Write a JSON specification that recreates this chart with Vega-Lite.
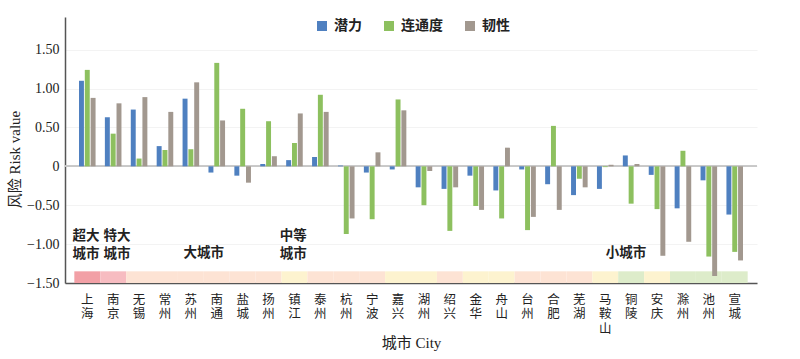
{
  "$schema": "https://vega.github.io/schema/vega-lite/v6.json",
  "width": 692,
  "height": 266,
  "autosize": "none",
  "padding": {"left": 65, "top": 17, "right": 43, "bottom": 76},
  "background": "white",
  "config": {"view": {"stroke": null}},
  "datasets": {
    "risk": [
      {"city": "上海", "tier": "超大城市", "潜力": 1.10, "连通度": 1.24, "韧性": 0.88},
      {"city": "南京", "tier": "特大城市", "潜力": 0.63, "连通度": 0.42, "韧性": 0.81},
      {"city": "无锡", "tier": "大城市", "潜力": 0.73, "连通度": 0.10, "韧性": 0.89},
      {"city": "常州", "tier": "大城市", "潜力": 0.26, "连通度": 0.21, "韧性": 0.70},
      {"city": "苏州", "tier": "大城市", "潜力": 0.87, "连通度": 0.22, "韧性": 1.08},
      {"city": "南通", "tier": "大城市", "潜力": -0.08, "连通度": 1.33, "韧性": 0.59},
      {"city": "盐城", "tier": "大城市", "潜力": -0.12, "连通度": 0.74, "韧性": -0.21},
      {"city": "扬州", "tier": "大城市", "潜力": 0.03, "连通度": 0.58, "韧性": 0.13},
      {"city": "镇江", "tier": "中等城市", "潜力": 0.08, "连通度": 0.30, "韧性": 0.68},
      {"city": "泰州", "tier": "大城市", "潜力": 0.12, "连通度": 0.92, "韧性": 0.70},
      {"city": "杭州", "tier": "大城市", "潜力": 0.01, "连通度": -0.87, "韧性": -0.67},
      {"city": "宁波", "tier": "大城市", "潜力": -0.08, "连通度": -0.68, "韧性": 0.18},
      {"city": "嘉兴", "tier": "中等城市", "潜力": -0.04, "连通度": 0.86, "韧性": 0.72},
      {"city": "湖州", "tier": "中等城市", "潜力": -0.27, "连通度": -0.50, "韧性": -0.06},
      {"city": "绍兴", "tier": "大城市", "潜力": -0.29, "连通度": -0.83, "韧性": -0.27},
      {"city": "金华", "tier": "中等城市", "潜力": -0.12, "连通度": -0.51, "韧性": -0.56},
      {"city": "舟山", "tier": "中等城市", "潜力": -0.31, "连通度": -0.67, "韧性": 0.24},
      {"city": "台州", "tier": "大城市", "潜力": -0.04, "连通度": -0.82, "韧性": -0.65},
      {"city": "合肥", "tier": "大城市", "潜力": -0.23, "连通度": 0.52, "韧性": -0.56},
      {"city": "芜湖", "tier": "大城市", "潜力": -0.37, "连通度": -0.16, "韧性": -0.27},
      {"city": "马鞍山", "tier": "中等城市", "潜力": -0.29, "连通度": -0.01, "韧性": 0.02},
      {"city": "铜陵", "tier": "小城市", "潜力": 0.14, "连通度": -0.48, "韧性": 0.03},
      {"city": "安庆", "tier": "中等城市", "潜力": -0.11, "连通度": -0.55, "韧性": -1.15},
      {"city": "滁州", "tier": "小城市", "潜力": -0.54, "连通度": 0.20, "韧性": -0.97},
      {"city": "池州", "tier": "小城市", "潜力": -0.18, "连通度": -1.16, "韧性": -1.41},
      {"city": "宣城", "tier": "小城市", "潜力": -0.62, "连通度": -1.10, "韧性": -1.21}
    ],
    "twoLine": [
      {"city": "上海", "label": "超大\n城市"},
      {"city": "镇江", "label": "中等\n城市"}
    ],
    "twoLineB": [
      {"city": "南京", "label": "特大\n城市"}
    ],
    "big": [
      {"city": "苏州", "label": "大城市"}
    ],
    "small": [
      {"city": "铜陵", "label": "小城市"}
    ]
  },
  "resolve": {"scale": {"color": "independent"}},
  "layer": [
    {
      "data": {"name": "risk"},
      "mark": {"type": "bar", "stroke": null},
      "encoding": {
        "x": {
          "field": "city", "type": "nominal", "sort": null,
          "scale": {"paddingInner": 0, "paddingOuter": 0.36},
          "axis": {
            "title": "城市 City",
            "titleFont": "Liberation Serif, Noto Sans CJK SC",
            "titleFontSize": 15,
            "titleFontWeight": "normal",
            "titleColor": "#222",
            "titlePadding": 1,
            "labelExpr": "split(datum.label, '')",
            "labelAngle": 0,
            "labelFont": "Noto Sans CJK SC",
            "labelFontSize": 12.5,
            "labelLineHeight": 14.5,
            "labelColor": "#222",
            "labelPadding": 14,
            "labelBaseline": "top",
            "tickSize": -4,
            "tickColor": "#666",
            "domainColor": "#555",
            "domainWidth": 1.5
          }
        },
        "y": {"datum": -1.5, "type": "quantitative"},
        "y2": {"datum": -1.35},
        "color": {
          "field": "tier", "type": "nominal", "legend": null,
          "scale": {
            "domain": ["超大城市", "特大城市", "大城市", "中等城市", "小城市"],
            "range": ["#f2a0a6", "#f7bcc1", "#fde3d4", "#fdf3cf", "#ddecca"]
          }
        }
      }
    },
    {
      "data": {"name": "risk"},
      "mark": {"type": "rule", "color": "#c8c8c8", "strokeWidth": 1},
      "encoding": {"y": {"datum": 0, "type": "quantitative"}}
    },
    {
      "data": {"name": "risk"},
      "transform": [{"fold": ["潜力", "连通度", "韧性"], "as": ["metric", "value"]}],
      "mark": {"type": "bar"},
      "encoding": {
        "x": {"field": "city", "type": "nominal", "sort": null},
        "xOffset": {
          "field": "metric", "type": "nominal",
          "sort": ["潜力", "连通度", "韧性"],
          "scale": {"paddingInner": 0.15, "paddingOuter": 0.8}
        },
        "y": {
          "field": "value", "type": "quantitative",
          "scale": {"domain": [-1.5, 1.92], "nice": false, "zero": false},
          "axis": {
            "title": "风险 Risk value",
            "titleFont": "Liberation Serif, Noto Sans CJK SC",
            "titleFontSize": 15,
            "titleFontWeight": "normal",
            "titleColor": "#222",
            "titlePadding": 4,
            "titleY": 142,
            "values": [-1.5, -1, -0.5, 0, 0.5, 1, 1.5],
            "labelExpr": "datum.value == 0 ? '0' : format(datum.value, '.2f')",
            "labelFont": "Liberation Serif",
            "labelFontSize": 14,
            "labelColor": "#222",
            "labelPadding": 6,
            "ticks": false,
            "grid": true,
            "gridColor": "#f3f3f3",
            "domainColor": "#555",
            "domainWidth": 1.5
          }
        },
        "color": {
          "field": "metric", "type": "nominal",
          "scale": {"domain": ["潜力", "连通度", "韧性"], "range": ["#4f80c0", "#8dc05f", "#a2988f"]},
          "legend": {
            "orient": "none", "legendX": 250, "legendY": 2,
            "direction": "horizontal", "title": null,
            "symbolType": "square", "symbolSize": 100, "symbolStrokeWidth": 0,
            "labelFont": "Noto Sans CJK SC", "labelFontSize": 14, "labelFontWeight": "bold",
            "labelColor": "#222", "labelOffset": 5, "columnPadding": 20
          }
        }
      }
    },
    {
      "data": {"name": "twoLine"},
      "mark": {"type": "text", "lineBreak": "\n", "baseline": "bottom", "align": "center", "font": "Noto Sans CJK SC", "fontSize": 13.5, "fontWeight": "bold", "color": "#222", "lineHeight": 18},
      "encoding": {
        "x": {"field": "city", "type": "nominal", "sort": null, "bandPosition": 0.45},
        "y": {"datum": -0.98, "type": "quantitative"},
        "text": {"field": "label"}
      }
    },
    {
      "data": {"name": "twoLineB"},
      "mark": {"type": "text", "lineBreak": "\n", "baseline": "bottom", "align": "center", "font": "Noto Sans CJK SC", "fontSize": 13.5, "fontWeight": "bold", "color": "#222", "lineHeight": 18},
      "encoding": {
        "x": {"field": "city", "type": "nominal", "sort": null, "bandPosition": 0.65},
        "y": {"datum": -0.98, "type": "quantitative"},
        "text": {"field": "label"}
      }
    },
    {
      "data": {"name": "big"},
      "mark": {"type": "text", "baseline": "bottom", "align": "center", "font": "Noto Sans CJK SC", "fontSize": 13.5, "fontWeight": "bold", "color": "#222"},
      "encoding": {
        "x": {"field": "city", "type": "nominal", "sort": null, "bandPosition": 1},
        "y": {"datum": -1.21, "type": "quantitative"},
        "text": {"field": "label"}
      }
    },
    {
      "data": {"name": "small"},
      "mark": {"type": "text", "baseline": "bottom", "align": "center", "font": "Noto Sans CJK SC", "fontSize": 13.5, "fontWeight": "bold", "color": "#222"},
      "encoding": {
        "x": {"field": "city", "type": "nominal", "sort": null, "bandPosition": 0.3},
        "y": {"datum": -1.21, "type": "quantitative"},
        "text": {"field": "label"}
      }
    }
  ]
}
